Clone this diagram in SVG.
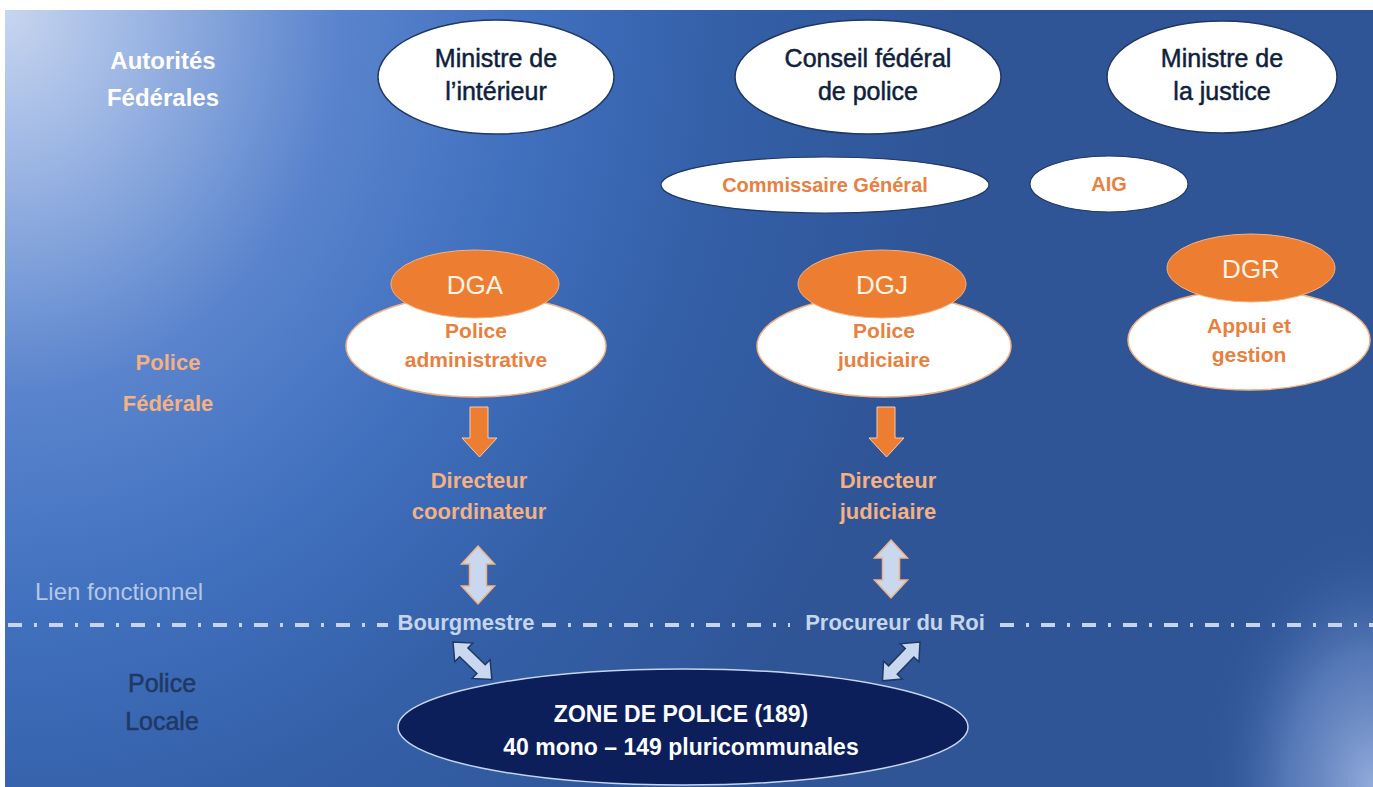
<svg xmlns="http://www.w3.org/2000/svg" width="1373" height="787" viewBox="0 0 1373 787">
<defs>
<radialGradient id="bgTL" gradientUnits="userSpaceOnUse" cx="5" cy="10" r="950" gradientTransform="translate(5 10) scale(1 1.15) translate(-5 -10)">
<stop offset="0" stop-color="#c8d6ef"/>
<stop offset="0.15" stop-color="#9ab4e3"/>
<stop offset="0.35" stop-color="#5a84cd"/>
<stop offset="0.55" stop-color="#4170be"/>
<stop offset="0.75" stop-color="#3460a8"/>
<stop offset="1" stop-color="#2f5597"/>
</radialGradient>
<radialGradient id="bgBR" gradientUnits="userSpaceOnUse" cx="1373" cy="787" r="230" gradientTransform="translate(1373 787) scale(0.75 1.15) translate(-1373 -787)">
<stop offset="0" stop-color="#93acdb" stop-opacity="1"/>
<stop offset="0.5" stop-color="#6f8fcb" stop-opacity="0.6"/>
<stop offset="1" stop-color="#2f5597" stop-opacity="0"/>
</radialGradient>
<path id="dblH" d="M0,0 L15,-13 L15,-6 L39,-6 L39,-13 L54,0 L39,13 L39,6 L15,6 L15,13 Z"/>
<path id="dblV" d="M0,0 L16.5,18 L8.5,18 L8.5,40 L16.5,40 L0,58 L-16.5,40 L-8.5,40 L-8.5,18 L-16.5,18 Z"/>
</defs>
<style>
.top{fill:#ffffff;stroke:#1f3864;stroke-width:1.5}
.sub{fill:#ffffff;stroke:#1f3864;stroke-width:1.2}
.wh{fill:#ffffff;stroke:#f4b183;stroke-width:1.5}
.or{fill:#ed7d31;stroke:#f4b183;stroke-width:1}
.t{font-family:"Liberation Sans",Arial,sans-serif;text-anchor:middle}
.dark{fill:#0f1f3d;stroke:#0f1f3d;stroke-width:0.5;font-size:25px}
.org{fill:#e8803f;font-weight:bold;font-size:20px}
.org2{fill:#e8803f;font-weight:bold;font-size:21px}
.dg{fill:#fff4e6;font-size:26px}
.lor{fill:#f4b183;font-weight:bold;font-size:22px}
.lbl{fill:#c5d5ee;font-weight:bold;font-size:22px}
.dash{stroke:#c5d5ee;stroke-width:4;stroke-dasharray:14 12 3 12;fill:none}
.arO{fill:#ed7d31;stroke:#f8cbad;stroke-width:1}
.arV{fill:#c9d7ef;stroke:#f4b183;stroke-width:1.5}
.arD{fill:#c9d7ef;stroke:#1f3864;stroke-width:1.5}
</style>
<rect x="5" y="10" width="1368" height="777" fill="url(#bgTL)"/>
<rect x="5" y="10" width="1368" height="777" fill="url(#bgBR)"/>

<g id="lbl-autorites">
<text class="t" x="163" y="69" fill="#ffffff" font-weight="bold" font-size="24">Autorités</text>
<text class="t" x="163" y="106" fill="#ffffff" font-weight="bold" font-size="24">Fédérales</text>
</g>
<g id="lbl-police-federale">
<text class="t lor" x="168" y="370" font-size="25">Police</text>
<text class="t lor" x="168" y="411" font-size="25">Fédérale</text>
</g>
<g id="lbl-lien">
<text x="35" y="600" font-family="Liberation Sans,Arial,sans-serif" font-size="24" fill="#b4c7e7">Lien fonctionnel</text>
</g>
<g id="lbl-police-locale">
<text class="t" x="162" y="692" fill="#1f3864" stroke="#1f3864" stroke-width="0.5" font-size="25">Police</text>
<text class="t" x="162" y="730" fill="#1f3864" stroke="#1f3864" stroke-width="0.5" font-size="25">Locale</text>
</g>

<g id="ministre-interieur">
<ellipse class="top" cx="496" cy="77" rx="118" ry="57"/>
<text class="t dark" x="496" y="67">Ministre de</text>
<text class="t dark" x="496" y="100">l’intérieur</text>
</g>
<g id="conseil-federal">
<ellipse class="top" cx="868" cy="77" rx="133" ry="57"/>
<text class="t dark" x="868" y="67">Conseil fédéral</text>
<text class="t dark" x="868" y="100">de police</text>
</g>
<g id="ministre-justice">
<ellipse class="top" cx="1222" cy="77" rx="115" ry="56"/>
<text class="t dark" x="1222" y="67">Ministre de</text>
<text class="t dark" x="1222" y="100">la justice</text>
</g>
<g id="commissaire">
<ellipse class="sub" cx="825" cy="185" rx="164" ry="28"/>
<text class="t org" x="825" y="192">Commissaire Général</text>
</g>
<g id="aig">
<ellipse class="sub" cx="1109" cy="184" rx="79" ry="28"/>
<text class="t org" x="1109" y="191">AIG</text>
</g>

<g id="dga">
<ellipse class="wh" cx="476" cy="346" rx="130" ry="51"/>
<ellipse class="or" cx="475" cy="284" rx="84" ry="34"/>
<text class="t dg" x="475" y="294">DGA</text>
<text class="t org2" x="476" y="338">Police</text>
<text class="t org2" x="476" y="367">administrative</text>
</g>
<g id="dgj">
<ellipse class="wh" cx="884" cy="346" rx="127" ry="51"/>
<ellipse class="or" cx="882" cy="284" rx="84" ry="34"/>
<text class="t dg" x="882" y="294">DGJ</text>
<text class="t org2" x="884" y="338">Police</text>
<text class="t org2" x="884" y="367">judiciaire</text>
</g>
<g id="dgr">
<ellipse class="wh" cx="1249" cy="340" rx="121" ry="50"/>
<ellipse class="or" cx="1251" cy="268" rx="84" ry="34"/>
<text class="t dg" x="1251" y="278">DGR</text>
<text class="t org2" x="1249" y="333">Appui et</text>
<text class="t org2" x="1249" y="362">gestion</text>
</g>

<g id="dir-coord">
<text class="t lor" x="479" y="488">Directeur</text>
<text class="t lor" x="479" y="519">coordinateur</text>
</g>
<g id="dir-jud">
<text class="t lor" x="888" y="488">Directeur</text>
<text class="t lor" x="888" y="519">judiciaire</text>
</g>
<g id="bourgmestre">
<text class="t lbl" x="466" y="630">Bourgmestre</text>
</g>
<g id="procureur">
<text class="t lbl" x="895" y="630">Procureur du Roi</text>
</g>
<g id="zone">
<ellipse cx="683" cy="727" rx="285" ry="58" fill="#0c1f5b" stroke="#c5d5ee" stroke-width="1.5"/>
<text class="t" x="681" y="722" fill="#ffffff" font-weight="bold" font-size="23">ZONE DE POLICE (189)</text>
<text class="t" x="681" y="755" fill="#ffffff" font-weight="bold" font-size="23">40 mono – 149 pluricommunales</text>
</g>

<g id="connectors">
<line class="dash" x1="8" y1="625" x2="388" y2="625"/>
<line class="dash" x1="542" y1="625" x2="790" y2="625"/>
<line class="dash" x1="1000" y1="625" x2="1373" y2="625"/>
<path class="arO" d="M470,407 H488 V438 H497 L479.5,457 L462,438 H470 Z"/>
<path class="arO" d="M877,407 H895 V438 H904 L886.5,457 L869,438 H877 Z"/>
<use href="#dblV" class="arV" transform="translate(478 546)"/>
<use href="#dblV" class="arV" transform="translate(891 540)"/>
<use href="#dblH" class="arD" transform="translate(453 642) rotate(44)"/>
<use href="#dblH" class="arD" transform="translate(920 642) rotate(134)"/>
</g>
</svg>
